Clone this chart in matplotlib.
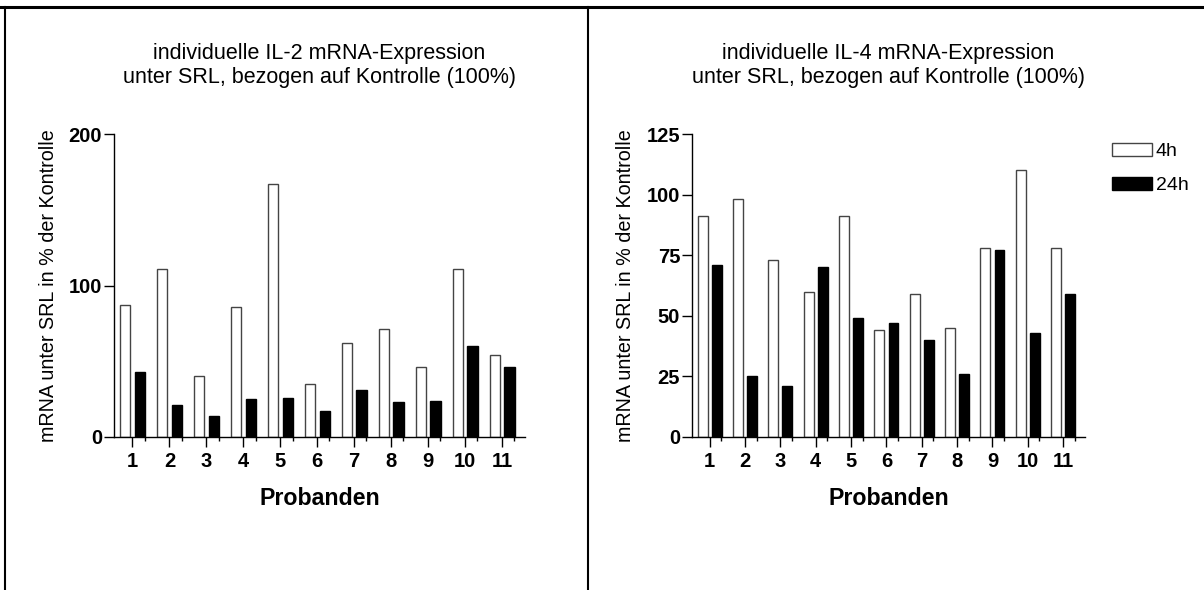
import numpy as np
import matplotlib
matplotlib.use("Agg")
import matplotlib.pyplot as plt
from matplotlib.lines import Line2D
from matplotlib.patches import Patch

plt.rcParams['font.family'] = ['Liberation Sans', 'DejaVu Sans']

probanden = [str(i) for i in range(1, 12)]

il2_4h = [87, 111, 40, 86, 167, 35, 62, 71, 46, 111, 54]
il2_24h = [43, 21, 14, 25, 26, 17, 31, 23, 24, 60, 46]

il4_4h = [91, 98, 73, 60, 91, 44, 59, 45, 78, 110, 78]
il4_24h = [71, 25, 21, 70, 49, 47, 40, 26, 77, 43, 59]

titles = ["individuelle IL-2 mRNA-Expression\nunter SRL, bezogen auf Kontrolle (100%)",
          "individuelle IL-4 mRNA-Expression\nunter SRL, bezogen auf Kontrolle (100%)"]
ylabel = "mRNA unter SRL in % der Kontrolle"
xlabel = "Probanden"


def draw_panel(ax, v4, v24, title, ymax, yticks):
    x = np.arange(1, len(v4) + 1)
    w = 0.28
    ax.bar(x - 0.2, v4, w, color='white', edgecolor='#444444', linewidth=1, label='4h')
    ax.bar(x + 0.2, v24, w, color='black', edgecolor='black', linewidth=1, label='24h')
    ax.set_xlim(0.5, 11.62)
    ax.set_ylim(0, ymax)
    ax.set_yticks(yticks)
    ax.set_xticks(x)
    ax.set_xticklabels(probanden)
    ax.set_xticks(x + 0.33, minor=True)
    for s in ['top', 'right']:
        ax.spines[s].set_visible(False)
    ax.spines['left'].set_linewidth(1)
    ax.spines['bottom'].set_linewidth(1)
    ax.tick_params(axis='both', which='major', length=7, width=1, labelsize=14.5)
    ax.tick_params(axis='y', which='major', pad=1.5)
    ax.tick_params(axis='x', which='major', pad=3.5)
    ax.tick_params(axis='x', which='minor', length=3, width=1)
    for lab in ax.get_xticklabels() + ax.get_yticklabels():
        lab.set_fontweight('bold')
    ax.set_title(title, fontsize=15.5, pad=37, linespacing=1.15)
    ax.set_ylabel(ylabel, fontsize=14.2, labelpad=8)
    ax.set_xlabel(xlabel, fontsize=16.7, fontweight='bold', labelpad=12)


fig = plt.figure(figsize=(12.04, 5.9), dpi=100)

ax1 = fig.add_axes([114 / 1204, 1 - 437 / 590, 411 / 1204, 303 / 590])
ax2 = fig.add_axes([692 / 1204, 1 - 437 / 590, 393 / 1204, 303 / 590])

draw_panel(ax1, il2_4h, il2_24h, titles[0], 200, [0, 100, 200])
draw_panel(ax2, il4_4h, il4_24h, titles[1], 125, [0, 25, 50, 75, 100, 125])

handles = [Patch(facecolor='white', edgecolor='#444444', label='4h'),
           Patch(facecolor='black', edgecolor='black', label='24h')]
fig.legend(handles=handles, loc='upper left', bbox_to_anchor=(1112 / 1204, 1 - 143 / 590),
           frameon=False, fontsize=14, handlelength=2.05, handleheight=0.67,
           handletextpad=0.2, labelspacing=0.85, borderaxespad=0, borderpad=0)

# outer frame lines
fig.add_artist(Line2D([0, 1], [1 - 7 / 590, 1 - 7 / 590], color='black', linewidth=2.2,
                      transform=fig.transFigure))
fig.add_artist(Line2D([5 / 1204, 5 / 1204], [0, 1 - 7 / 590], color='black', linewidth=1.5,
                      transform=fig.transFigure))
fig.add_artist(Line2D([588 / 1204, 588 / 1204], [0, 1 - 7 / 590], color='black', linewidth=1.5,
                      transform=fig.transFigure))

fig.savefig("out.png", dpi=100)
